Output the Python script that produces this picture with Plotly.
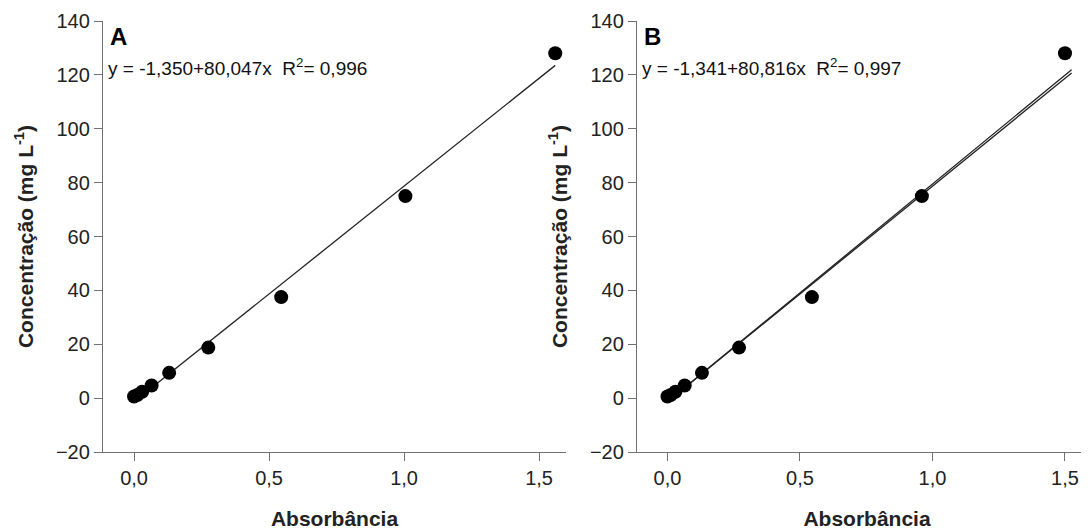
import plotly.graph_objects as go

# Data
conc = [0.586, 1.17, 2.34, 4.69, 9.375, 18.75, 37.5, 75, 128]
abs_a = [0.0, 0.012, 0.03, 0.065, 0.13, 0.275, 0.545, 1.005, 1.56]
abs_b = [0.0, 0.012, 0.03, 0.065, 0.13, 0.27, 0.545, 0.96, 1.50]
fit_a = (-1.350, 80.047)
fit_b = (-1.341, 80.816)
fit_b2 = (-1.350, 80.047)
line_x_a = [0.0, 1.56]
line_x_b = [0.0, 1.525]
eq_a = "y = -1,350+80,047x  R<sup>2</sup>= 0,996"
eq_b = "y = -1,341+80,816x  R<sup>2</sup>= 0,997"
x_ticks = [0, 0.5, 1.0, 1.5]
x_ticklabels = ["0,0", "0,5", "1,0", "1,5"]
y_ticks = [-20, 0, 20, 40, 60, 80, 100, 120, 140]

FONT = "Liberation Sans, Arial, sans-serif"
W, H = 1089, 531
PXU_A = 270.0  # pixels per absorbance unit
PXU_B = 265.0

fig = go.Figure()

def add_panel(xs, ys, fits, lx, xa, ya):
    x0, x1 = lx
    for a, b in fits:
        fig.add_trace(go.Scatter(x=[x0, x1], y=[a + b * x0, a + b * x1], mode="lines",
                                 line=dict(color="#222222", width=1.3), xaxis=xa, yaxis=ya,
                                 showlegend=False, hoverinfo="skip", cliponaxis=False))
    fig.add_trace(go.Scatter(x=xs, y=ys, mode="markers",
                             marker=dict(color="black", size=14), xaxis=xa, yaxis=ya,
                             showlegend=False, cliponaxis=False))

add_panel(abs_a, conc, [fit_a], line_x_a, "x", "y")
add_panel(abs_b, conc, [fit_b, fit_b2], line_x_b, "x2", "y2")

def px_x(p):
    return p / W

def px_y(p):
    return 1 - p / H

ax_common = dict(showline=True, linecolor="#707070", linewidth=1.3, ticks="outside",
                 ticklen=8, tickcolor="#707070", tickwidth=1.3, showgrid=False, zeroline=False,
                 automargin=False,
                 tickfont=dict(family=FONT, size=20, color="#222222"))

xcommon = dict(ax_common, tickvals=x_ticks, ticktext=x_ticklabels,
               title=dict(text="<b>Absorbância</b>", font=dict(family=FONT, size=21, color="#222222"), standoff=23))
ycommon = dict(ax_common, tickvals=y_ticks, range=[-20, 140],
               title=dict(text="<b>Concentração (mg L<sup>-1</sup>)</b>", font=dict(family=FONT, size=21, color="#222222"), standoff=16))

a_min = -0.115
a_left, a_right = 95, 95 + 1.715 * PXU_A
b_min = -0.115
b_left, b_right = 629, W

yd = [px_y(444), px_y(13)]
fig.update_layout(
    width=W, height=H,
    margin=dict(l=0, r=0, t=0, b=0, autoexpand=False),
    plot_bgcolor="white", paper_bgcolor="white",
    xaxis=dict(xcommon, domain=[px_x(a_left), px_x(a_right)], range=[a_min, a_min + (a_right - a_left) / PXU_A], anchor="y"),
    yaxis=dict(ycommon, domain=yd, anchor="x"),
    xaxis2=dict(xcommon, domain=[px_x(b_left), px_x(b_right)], range=[b_min, b_min + (b_right - b_left) / PXU_B], anchor="y2"),
    yaxis2=dict(ycommon, domain=yd, anchor="x2"),
)

for xr, yr, label, eq in [("x domain", "y domain", "A", eq_a), ("x2 domain", "y2 domain", "B", eq_b)]:
    fig.add_annotation(xref=xr, yref=yr, x=0.01, y=1.0, text="<b>" + label + "</b>", showarrow=False,
                       xanchor="left", yanchor="top", font=dict(family=FONT, size=24, color="black"))
    fig.add_annotation(xref=xr, yref=yr, x=0.006, y=0.925, text=eq, showarrow=False,
                       xanchor="left", yanchor="top", font=dict(family=FONT, size=19, color="#111111"))

fig.write_html("out.html")
